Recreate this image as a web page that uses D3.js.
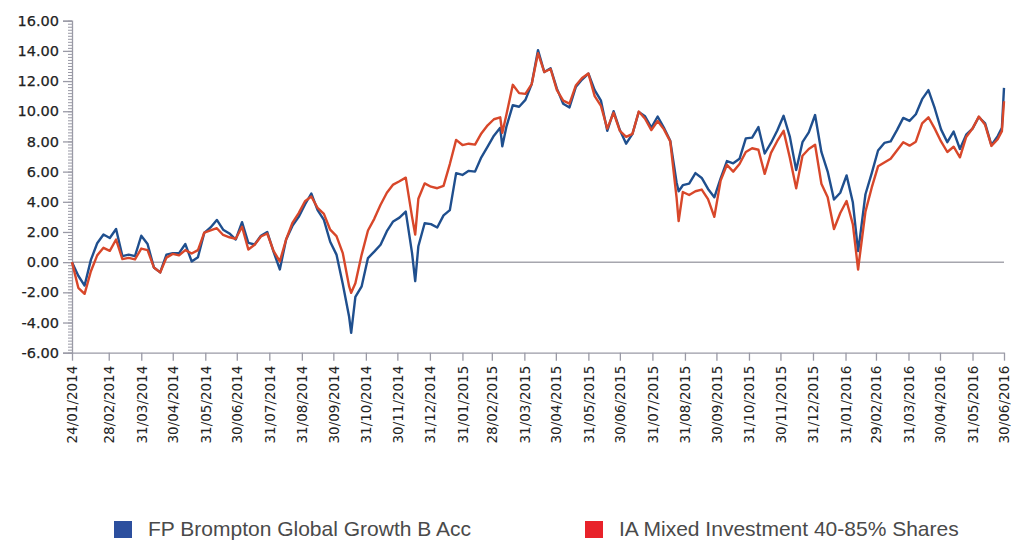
<!DOCTYPE html>
<html>
<head>
<meta charset="utf-8">
<script src="https://cdn.jsdelivr.net/npm/d3@7/dist/d3.min.js"></script>
<style>
  html, body { margin: 0; padding: 0; background: #fff; }
  svg { display: block; }
</style>
</head>
<body>
<svg id="chart" width="1012" height="541"></svg>
<script>
// ---- DATA ----
const startDate = "24/01/2014";
const endDate = "30/06/2016";

// days since start date
const days = [
  0,6,12,18,24,30,36,42,48,54,
  60,66,72,78,84,90,96,102,108,114,
  120,126,132,138,144,150,156,162,168,174,
  180,186,192,198,204,210,216,222,228,234,
  240,246,252,258,264,266,
  270,276,282,288,294,300,306,312,318,324,327,
  330,336,342,348,354,360,366,372,378,384,390,396,402,408,410,
  414,420,426,432,438,444,450,456,462,468,474,480,486,492,498,504,510,516,522,528,534,540,546,552,558,564,570,576,578,
  582,588,594,600,606,612,618,624,630,636,642,648,654,660,666,672,678,684,690,696,702,708,714,720,726,732,738,744,749,
  750,756,762,768,774,780,786,792,798,804,810,816,822,828,834,840,846,852,858,864,870,876,882,886,
  888
];

const seriesNames = ["FP Brompton Global Growth B Acc", "IA Mixed Investment 40-85% Shares"];

const bromptonValues = [
  0, -0.9, -1.55, 0.15, 1.25, 1.83, 1.6, 2.2, 0.4, 0.5,
  0.4, 1.75, 1.2, -0.35, -0.68, 0.5, 0.6, 0.6, 1.2, 0.05,
  0.33, 1.94, 2.3, 2.8, 2.15, 1.9, 1.5, 2.65, 1.28, 1.17,
  1.75, 2.0, 0.7, -0.48, 1.5, 2.4, 3.0, 3.82, 4.55, 3.45,
  2.8, 1.35, 0.5, -1.45, -3.6, -4.68,
  -2.3, -1.6, 0.27, 0.7, 1.15, 2.05, 2.7, 2.95, 3.35, 0.6, -1.26,
  1.05, 2.58, 2.52, 2.3, 3.1, 3.45, 5.9, 5.78, 6.05, 6.0, 6.95, 7.65, 8.38, 8.9, 7.68,
  9.0, 10.4, 10.3, 10.75, 11.8, 14.05, 12.6, 12.85, 11.5, 10.5, 10.25, 11.6, 12.1, 12.5, 11.4, 10.7, 8.7, 10.0, 8.75, 7.85, 8.5, 9.95, 9.67, 8.92, 9.65, 8.9, 8.05, 5.3, 4.7,
  5.1, 5.2, 5.9, 5.58, 4.85, 4.3, 5.55, 6.7, 6.55, 6.85, 8.2, 8.25, 8.95, 7.2, 7.9, 8.72, 9.7, 8.3, 6.1, 7.95, 8.6, 9.75, 7.3, 6.0, 4.15, 4.6, 5.75, 3.95, 0.73,
  1.2, 4.5, 5.9, 7.4, 7.9, 8.0, 8.75, 9.56, 9.36, 9.8, 10.8, 11.4, 10.2, 8.8, 7.95, 8.65, 7.5, 8.45, 8.85, 9.62, 9.2, 7.75, 8.35, 8.9,
  11.55
];

const sectorValues = [
  0, -1.7, -2.1, -0.6, 0.45, 0.95, 0.75, 1.5, 0.2, 0.28,
  0.18, 0.9, 0.8, -0.35, -0.68, 0.3, 0.55, 0.45, 0.8, 0.57,
  0.8, 1.95, 2.1, 2.25, 1.8, 1.65, 1.55, 2.35, 0.84, 1.15,
  1.7, 1.9, 0.75, 0.05, 1.5, 2.6, 3.25, 4.04, 4.35, 3.6,
  3.2, 2.15, 1.72, 0.6, -1.59, -2.03,
  -1.4, 0.5, 2.1, 2.87, 3.8, 4.6, 5.14, 5.36, 5.6, 3.0, 1.83,
  4.2, 5.22, 5.0, 4.9, 5.05, 6.5, 8.1, 7.76, 7.85, 7.79, 8.53, 9.07, 9.47, 9.6, 8.57,
  9.8, 11.75, 11.2, 11.15, 11.8, 13.85, 12.6, 12.8, 11.4, 10.7, 10.5, 11.7, 12.2, 12.5, 11.0, 10.35, 8.85, 9.9, 8.7, 8.3, 8.5, 9.98, 9.5, 8.75, 9.35, 8.8, 8.0, 4.3, 2.72,
  4.65, 4.45, 4.7, 4.81, 4.18, 3.0, 5.4, 6.45, 6.0, 6.5, 7.3, 7.55, 7.45, 5.85, 7.24, 8.03, 8.7, 6.9, 4.9, 7.05, 7.5, 7.78, 5.2, 4.3, 2.2, 3.26, 4.05, 2.5, -0.49,
  0.1, 3.35, 4.95, 6.35, 6.6, 6.85, 7.4, 7.95, 7.72, 7.98, 9.2, 9.6, 8.85, 8.0, 7.3, 7.65, 6.95, 8.3, 8.85, 9.65, 9.1, 7.7, 8.15, 8.68,
  10.66
];

const xTickLabels = [
  "24/01/2014","28/02/2014","31/03/2014","30/04/2014","31/05/2014","30/06/2014",
  "31/07/2014","31/08/2014","30/09/2014","31/10/2014","30/11/2014","31/12/2014",
  "31/01/2015","28/02/2015","31/03/2015","30/04/2015","31/05/2015","30/06/2015",
  "31/07/2015","31/08/2015","30/09/2015","31/10/2015","30/11/2015","31/12/2015",
  "31/01/2016","29/02/2016","31/03/2016","30/04/2016","31/05/2016","30/06/2016"
];

const yTickValues = [-6, -4, -2, 0, 2, 4, 6, 8, 10, 12, 14, 16];
const yTickLabels = ["-6.00","-4.00","-2.00","0.00","2.00","4.00","6.00","8.00","10.00","12.00","14.00","16.00"];

// ---- CHART ----
(function () {
const parse = d3.timeParse("%d/%m/%Y");
const start = parse(startDate);
const end = parse(endDate);
const dates = days.map(d => d3.timeDay.offset(start, d));

const svg = d3.select("#chart");
const plotLeft = 72, plotRight = 1004, plotTop = 20.7, plotBottom = 352.7;

const x = d3.scaleTime().domain([start, end]).range([plotLeft, plotRight]);
const y = d3.scaleLinear().domain([-6, 16]).range([plotBottom, plotTop]);

const axisColor = "#9a9aa6";
const labelColor = "#222";

// minor y ticks
const minorTicks = d3.range(-6, 16.001, 0.2).map(v => Math.round(v * 10) / 10);
svg.append("g")
  .attr("transform", `translate(${plotLeft},0)`)
  .call(d3.axisLeft(y).tickValues(minorTicks).tickSize(4).tickFormat(""))
  .call(g => g.select(".domain").remove())
  .call(g => g.selectAll("line").attr("stroke", axisColor).attr("stroke-width", 1));

// major y axis
const yAxis = svg.append("g")
  .attr("transform", `translate(${plotLeft},0)`)
  .call(d3.axisLeft(y).tickValues(yTickValues).tickSize(9).tickPadding(4)
        .tickFormat((d, i) => yTickLabels[i]));
yAxis.select(".domain").attr("stroke", axisColor).attr("stroke-width", 1.3);
yAxis.selectAll("line").attr("stroke", axisColor).attr("stroke-width", 1.3);
yAxis.selectAll("text")
  .attr("fill", labelColor)
  .attr("stroke", labelColor)
  .attr("stroke-width", 0.25)
  .style("font-family", "'DejaVu Sans', Verdana, sans-serif")
  .style("font-size", "14.5px");

// x axis
const xTickDates = xTickLabels.map(parse);
const xAxis = svg.append("g")
  .attr("transform", `translate(0,${plotBottom})`)
  .call(d3.axisBottom(x).tickValues(xTickDates).tickSize(8).tickSizeOuter(0)
        .tickFormat((d, i) => xTickLabels[i]));
xAxis.select(".domain").attr("stroke", axisColor).attr("stroke-width", 1.3);
xAxis.selectAll("line").attr("stroke", axisColor).attr("stroke-width", 1.3);
xAxis.selectAll("text")
  .attr("fill", labelColor)
  .attr("transform", "rotate(-90)")
  .attr("text-anchor", "end")
  .attr("x", -13)
  .attr("y", 0)
  .attr("dy", "0.36em")
  .style("font-family", "'DejaVu Sans', Verdana, sans-serif")
  .style("font-size", "13.5px");

// zero line
svg.append("line")
  .attr("x1", plotLeft).attr("x2", plotRight)
  .attr("y1", y(0)).attr("y2", y(0))
  .attr("stroke", "#a6a6ae").attr("stroke-width", 1.5);

// lines
const line = d3.line()
  .x(d => x(d.date))
  .y(d => y(d.value));

const bromptonData = dates.map((d, i) => ({ date: d, value: bromptonValues[i] }));
const sectorData = dates.map((d, i) => ({ date: d, value: sectorValues[i] }));

svg.append("path")
  .datum(bromptonData)
  .attr("d", line)
  .attr("fill", "none")
  .attr("stroke", "#1f4f8e")
  .attr("stroke-width", 2.4)
  .attr("stroke-linejoin", "round");

svg.append("path")
  .datum(sectorData)
  .attr("d", line)
  .attr("fill", "none")
  .attr("stroke", "#d8472a")
  .attr("stroke-width", 2.4)
  .attr("stroke-linejoin", "round");

// legend
const legendColors = ["#2c4f9e", "#e8222a"];
const legendX = [114, 585];
const legend = svg.append("g");
seriesNames.forEach((name, i) => {
  legend.append("rect")
    .attr("x", legendX[i]).attr("y", 521)
    .attr("width", 18).attr("height", 17)
    .attr("fill", legendColors[i]);
  legend.append("text")
    .attr("x", legendX[i] + 34).attr("y", 536)
    .attr("fill", "#4a4a4a")
    .style("font-family", "'Liberation Sans', Arial, sans-serif")
    .style("font-size", "21px")
    .text(name);
});
})();
</script>
</body>
</html>
